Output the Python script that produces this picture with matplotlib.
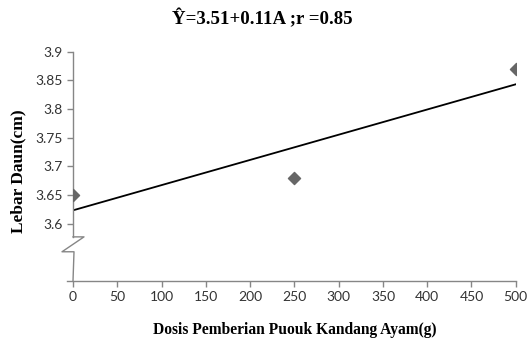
import numpy as np
import matplotlib.pyplot as plt
from matplotlib.ticker import FixedLocator

# pupuk kandang ayam (g) vs lebar daun (cm)
dosis = [0, 250, 500]
lebar = [3.65, 3.68, 3.87]
xticks = list(range(0, 501, 50))
yticks = [3.6, 3.65, 3.7, 3.75, 3.8, 3.85, 3.9]
ylabels = ['3.6', '3.65', '3.7', '3.75', '3.8', '3.85', '3.9']

grey = '#868686'
fig = plt.figure(figsize=(5.29, 3.41), dpi=100)
ax = fig.add_axes([0.138, 0.176, 0.837, 0.672])

# garis regresi
b, a = np.polyfit(dosis, lebar, 1)
xx = np.array([0, 500])
ax.plot(xx, a + b * xx, color='black', lw=1.3, zorder=2)
ax.scatter(dosis, lebar, marker='D', s=38, color='#666666', zorder=3)

ax.set_xlim(0, 500)
ax.set_ylim(3.5, 3.9)
ax.xaxis.set_major_locator(FixedLocator(xticks))
ax.set_yticks(yticks)
ax.set_yticklabels(ylabels)

for s in ax.spines.values():
    s.set_visible(False)

# sumbu y dengan tanda patah
dx = 500 / 443.0
ax.plot([0, 0], [3.9, 3.577], color=grey, lw=1, clip_on=False)
ax.plot([0, 11 * dx, -11 * dx, 1 * dx, 0], [3.577, 3.577, 3.551, 3.551, 3.5],
        color=grey, lw=1, clip_on=False)
ax.plot([-6 * dx, 500], [3.5, 3.5], color=grey, lw=1, clip_on=False)

ax.tick_params(axis='both', direction='out', length=4, width=1, color=grey,
               labelsize=10, labelcolor='#333333')
for lab in ax.get_xticklabels() + ax.get_yticklabels():
    lab.set_family('Lato')

serif = dict(family='Liberation Serif', fontweight='bold')
fig.text(0.557, 0.032, 'Dosis Pemberian Puouk Kandang Ayam(g)', ha='center',
         va='center', fontsize=11.2, **serif)
fig.text(0.034, 0.499, 'Lebar Daun(cm)', ha='center', va='center',
         rotation=90, fontsize=12.5, **serif)
fig.text(0.496, 0.944, 'Ŷ=3.51+0.11A ;r =0.85', ha='center', va='center',
         fontsize=13.6, **serif)

fig.savefig('out.png', dpi=100)
